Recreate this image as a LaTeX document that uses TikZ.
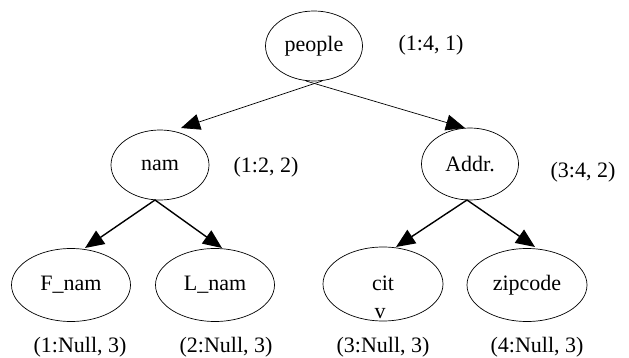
\documentclass[tikz,border=0pt]{standalone}
\usepackage{fontspec}
\setmainfont{Liberation Serif}
\usetikzlibrary{shapes.geometric,arrows.meta}
\begin{document}
\begin{tikzpicture}[x=1pt,y=-1pt,
  every node/.style={font=\fontsize{22}{26}\selectfont, inner sep=0pt},
  el/.style={draw, ellipse, line width=0.7pt},
  lbl/.style={anchor=center},
  thin arrow/.style={line width=0.7pt, -{Triangle[length=19pt,width=16pt]}},
  thick arrow/.style={line width=1.4pt, -{Triangle[length=19pt,width=16pt]}}]
\useasboundingbox (0,0) rectangle (629,358);
\node[el, minimum width=97pt, minimum height=70pt] (people) at (314,46) {people};
\node[el, minimum width=98pt, minimum height=70pt] (nam) at (160,165) {nam};
\node[el, minimum width=97pt, minimum height=72pt] (addr) at (470,164) {Addr.};
\node[el, minimum width=119pt, minimum height=73pt] (fnam) at (71,285) {F\_nam};
\node[el, minimum width=119pt, minimum height=73pt] (lnam) at (215,285) {L\_nam};
\node[el, minimum width=120pt, minimum height=74pt] (cit) at (383,284) {};
\node[el, minimum width=120pt, minimum height=73pt] (zip) at (527,285) {zipcode};
\node (cittxt) at (383,283) {cit};
\node (citv) at (380,314) {v};
\node[lbl] (l1) at (431,45) {(1:4, 1)};
\node[lbl] (l2) at (266,167) {(1:2, 2)};
\node[lbl] (l3) at (583,172) {(3:4, 2)};
\node[lbl] (l4) at (80,347) {(1:Null, 3)};
\node[lbl] (l5) at (226,347) {(2:Null, 3)};
\node[lbl] (l6) at (383,347) {(3:Null, 3)};
\node[lbl] (l7) at (537,347) {(4:Null, 3)};
\coordinate (pa) at (322,81);
\coordinate (pb) at (306,81);
\coordinate (na) at (155,200);
\coordinate (aa) at (467,200);
\draw[thin arrow] (pa) -- (181,128);
\draw[thin arrow] (pb) -- (465,128);
\draw[thick arrow] (na) -- (85,248);
\draw[thick arrow] (na) -- (222,248);
\draw[thick arrow] (aa) -- (396,247);
\draw[thick arrow] (aa) -- (535,247);
\end{tikzpicture}
\end{document}
